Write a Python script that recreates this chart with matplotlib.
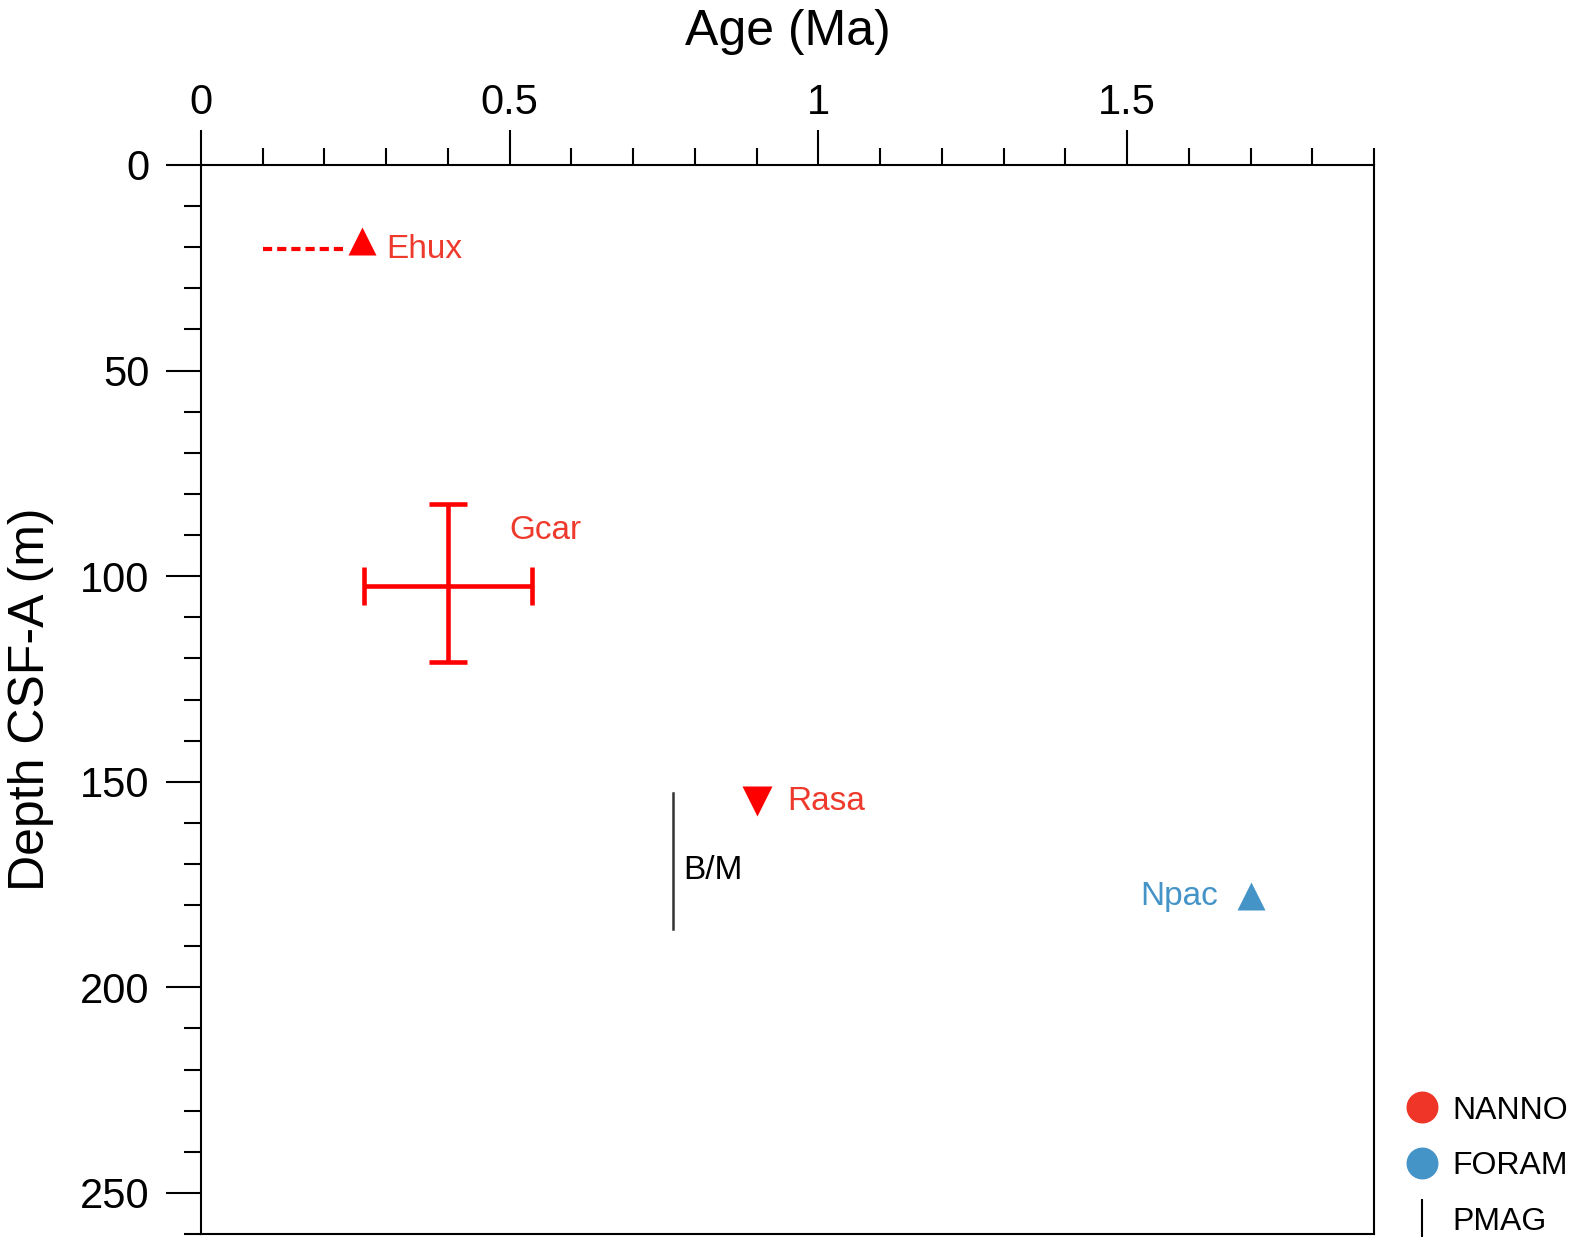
import matplotlib
matplotlib.use('Agg')
import matplotlib.pyplot as plt
from matplotlib.lines import Line2D
import numpy as np

plt.rcParams['font.family'] = ['Liberation Sans', 'DejaVu Sans']

# datums (age in Ma, depth in m)
ehux_age, ehux_depth = 0.26, 18.5
ehux_range_age = [0.10, 0.23]
ehux_range_depth = [20.5, 20.5]

gcar_age, gcar_depth = 0.40, 102.5
gcar_xerr = [[0.136], [0.136]]
gcar_yerr = [[20.0], [18.5]]

rasa_age, rasa_depth = 0.90, 154.8

npac_age, npac_depth = 1.70, 177.8

bm_age = 0.765
bm_depth = [152.7, 185.8]

red = '#ff0000'
red_txt = '#ee3a2c'
blue = '#4594c8'

fig = plt.figure(figsize=(15.74, 12.4), dpi=100)
ax = fig.add_axes([201/1574, 6/1240, 1173/1574, 1069/1240])

# Ehux
ax.plot(ehux_range_age, ehux_range_depth, ls=(0, (2.2, 1.2)), color=red, lw=3)
ax.plot(ehux_age, ehux_depth, marker='^', ms=20, color=red, mec='none', ls='none')
ax.text(ehux_age + 0.04, 20.5, 'Ehux', color=red_txt, fontsize=24, va='center', ha='left')

# Gcar
ax.errorbar(gcar_age, gcar_depth, xerr=gcar_xerr, yerr=gcar_yerr, color=red,
            lw=3.3, capsize=14, capthick=3.3, fmt='none')
ax.text(0.5, 89.0, 'Gcar', color=red_txt, fontsize=24, va='center', ha='left')

# Rasa
ax.plot(rasa_age, rasa_depth, marker='v', ms=21, color=red, mec='none', ls='none')
ax.text(rasa_age + 0.05, rasa_depth, 'Rasa', color=red_txt, fontsize=24, va='center', ha='left')

# B/M reversal
ax.plot([bm_age, bm_age], bm_depth, color='#333333', lw=1.8)
ax.text(bm_age + 0.016, 171.5, 'B/M', color='black', fontsize=24, va='center', ha='left')

# Npac
ax.plot(npac_age, npac_depth, marker='^', ms=20, color=blue, mec='none', ls='none')
ax.text(npac_age - 0.052, npac_depth, 'Npac', color=blue, fontsize=24, va='center', ha='right')

ax.set_xlim(0, 1.9)
ax.set_ylim(260, 0)
ax.xaxis.tick_top()
ax.xaxis.set_label_position('top')
ax.set_xticks([0, 0.5, 1, 1.5])
ax.set_xticklabels(['0', '0.5', '1', '1.5'])
ax.set_xticks(np.arange(0, 1.91, 0.1), minor=True)
ax.set_yticks([0, 50, 100, 150, 200, 250])
ax.set_yticks(np.arange(0, 261, 10), minor=True)
ax.tick_params(which='major', direction='out', length=25, width=1.5, labelsize=30, pad=12)
ax.tick_params(which='minor', direction='out', length=12.5, width=1.5)
ax.tick_params(axis='x', which='major', pad=5.5)
for s in ax.spines.values():
    s.set_linewidth(1.5)

ax.set_xlabel('Age (Ma)', fontsize=36, labelpad=27)
ax.set_ylabel('Depth CSF-A (m)', fontsize=36, labelpad=19)

handles = [
    Line2D([], [], marker='o', ms=22, color='#ee3527', ls='none', label='NANNO'),
    Line2D([], [], marker='o', ms=22, color=blue, ls='none', label='FORAM'),
    Line2D([], [], marker='|', ms=28, mew=1.5, color='black', ls='none', label='PMAG'),
]
fig.legend(handles=handles, loc='lower left', bbox_to_anchor=(1384/1574, -19/1240),
           frameon=False, fontsize=23, handlelength=1.0, handletextpad=0.45,
           labelspacing=0.8, borderpad=0.2)

fig.savefig('out.png', dpi=100)
